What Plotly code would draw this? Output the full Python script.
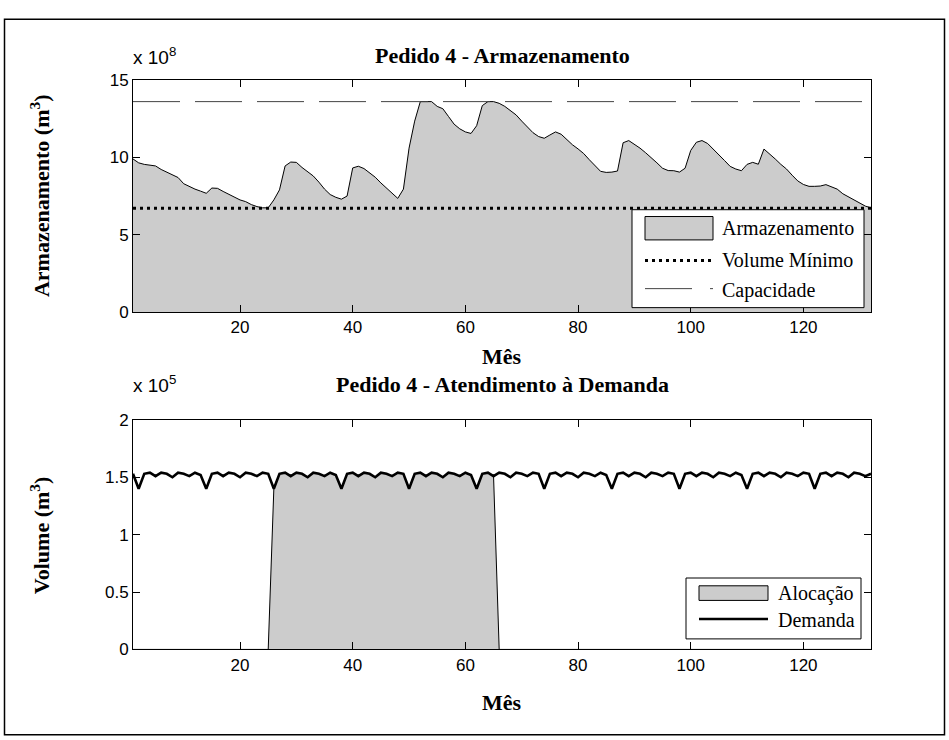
import plotly.graph_objects as go

# ---------------- data ----------------
months = list(range(1, 133))

# reservoir storage (x 1e8 m3), one value per month
storage = [
    9.90, 9.65, 9.55, 9.52, 9.45, 9.22, 9.05, 8.90, 8.70, 8.30, 8.12, 7.95,
    7.82, 7.68, 8.02, 8.00, 7.80, 7.60, 7.42, 7.25, 7.14, 6.95, 6.82, 6.74,
    6.74, 7.25, 7.90, 9.45, 9.70, 9.68, 9.35, 9.05, 8.80, 8.40, 7.95, 7.60,
    7.42, 7.30, 7.50, 9.32, 9.43, 9.28, 9.00, 8.72, 8.35, 8.00, 7.65, 7.35,
    7.95, 10.60, 12.35, 13.61, 13.61, 13.61, 13.30, 13.15, 12.65, 12.15, 11.85, 11.65,
    11.55, 12.05, 13.35, 13.61, 13.61, 13.50, 13.30, 13.05, 12.75, 12.35, 11.97, 11.60,
    11.35, 11.24, 11.45, 11.65, 11.50, 11.15, 10.82, 10.55, 10.25, 9.85, 9.45, 9.10,
    9.03, 9.05, 9.12, 10.95, 11.09, 10.85, 10.60, 10.30, 10.00, 9.65, 9.30, 9.15,
    9.14, 9.05, 9.30, 10.45, 10.98, 11.09, 10.90, 10.55, 10.20, 9.80, 9.42, 9.25,
    9.14, 9.55, 9.68, 9.56, 10.54, 10.25, 9.90, 9.55, 9.25, 8.85, 8.48, 8.25,
    8.13, 8.13, 8.15, 8.24, 8.08, 7.95, 7.65, 7.45, 7.22, 7.00, 6.85, 6.74,
]
storage_scale = 1e8
capacity = 13.61      # x 1e8 m3
min_volume = 6.72     # x 1e8 m3

# monthly demand (x 1e5 m3)
demand = [
    1.53, 1.40, 1.53, 1.54, 1.51, 1.54, 1.53, 1.50, 1.54, 1.53, 1.51, 1.54,
    1.52, 1.40, 1.53, 1.54, 1.51, 1.54, 1.53, 1.50, 1.54, 1.53, 1.51, 1.54,
    1.53, 1.40, 1.53, 1.54, 1.51, 1.54, 1.53, 1.50, 1.54, 1.53, 1.51, 1.54,
    1.52, 1.40, 1.53, 1.54, 1.51, 1.54, 1.53, 1.50, 1.54, 1.53, 1.51, 1.54,
    1.53, 1.40, 1.53, 1.54, 1.51, 1.54, 1.53, 1.50, 1.54, 1.53, 1.51, 1.54,
    1.52, 1.40, 1.53, 1.54, 1.51, 1.54, 1.53, 1.50, 1.54, 1.53, 1.51, 1.54,
    1.53, 1.40, 1.53, 1.54, 1.51, 1.54, 1.53, 1.50, 1.54, 1.53, 1.51, 1.54,
    1.52, 1.40, 1.53, 1.54, 1.51, 1.54, 1.53, 1.50, 1.54, 1.53, 1.51, 1.54,
    1.53, 1.40, 1.53, 1.54, 1.51, 1.54, 1.53, 1.50, 1.54, 1.53, 1.51, 1.54,
    1.52, 1.40, 1.53, 1.54, 1.51, 1.54, 1.53, 1.50, 1.54, 1.53, 1.51, 1.54,
    1.53, 1.40, 1.53, 1.54, 1.51, 1.54, 1.53, 1.50, 1.54, 1.53, 1.51, 1.53,
]
demand_scale = 1e5
# months in which the order is supplied
alloc_first, alloc_last = 26, 65
allocation = [d if alloc_first <= m <= alloc_last else 0.0 for m, d in zip(months, demand)]

top_ticks = [0, 5, 10, 15]
bottom_ticks = [0, 0.5, 1, 1.5, 2]
x_ticks = [20, 40, 60, 80, 100, 120]

# ---------------- layout helpers ----------------
W, H = 949, 740
def px(x):
    return x / W
def py(y):
    return 1 - y / H

GREY = "#cccccc"
SERIF = "Liberation Serif, Times New Roman, serif"
SANS = "Liberation Sans, Arial, sans-serif"

fig = go.Figure()

# ---- top panel: storage ----
fig.add_trace(go.Scatter(
    x=months, y=[v * storage_scale for v in storage], mode="lines",
    line=dict(color="black", width=1), fill="tozeroy", fillcolor=GREY,
    xaxis="x", yaxis="y", showlegend=False, hoverinfo="skip"))
fig.add_trace(go.Scatter(
    x=[months[0], months[-1]], y=[min_volume * storage_scale] * 2, mode="lines",
    line=dict(color="black", width=3, dash="3px,4px"),
    xaxis="x", yaxis="y", showlegend=False, hoverinfo="skip"))
fig.add_trace(go.Scatter(
    x=[months[0], months[-1]], y=[capacity * storage_scale] * 2, mode="lines",
    line=dict(color="#444444", width=1, dash="47px,15px"),
    xaxis="x", yaxis="y", showlegend=False, hoverinfo="skip"))

# ---- bottom panel: demand service ----
fig.add_trace(go.Scatter(
    x=months, y=[v * demand_scale for v in allocation], mode="lines",
    line=dict(color="black", width=1), fill="tozeroy", fillcolor=GREY,
    xaxis="x2", yaxis="y2", showlegend=False, hoverinfo="skip"))
fig.add_trace(go.Scatter(
    x=months, y=[v * demand_scale for v in demand], mode="lines",
    line=dict(color="black", width=2.6),
    xaxis="x2", yaxis="y2", showlegend=False, hoverinfo="skip"))

axis_common = dict(
    showline=True, linecolor="black", linewidth=1, mirror="ticks",
    ticks="inside", ticklen=7, tickwidth=1, tickcolor="black",
    showgrid=False, zeroline=False,
    tickfont=dict(family=SANS, size=17, color="black"),
)
x_dom = [px(133), px(871)]
fig.update_layout(
    width=W, height=H, margin=dict(l=0, r=0, t=0, b=0),
    paper_bgcolor="white", plot_bgcolor="white", showlegend=False,
    xaxis=dict(domain=x_dom, range=[1, 132], tickvals=x_ticks, anchor="y", **axis_common),
    yaxis=dict(domain=[py(311), py(73)], range=[0, 15 * storage_scale],
               tickvals=[t * storage_scale for t in top_ticks],
               ticktext=[str(t) for t in top_ticks], anchor="x", **axis_common),
    xaxis2=dict(domain=x_dom, range=[1, 132], tickvals=x_ticks, anchor="y2", **axis_common),
    yaxis2=dict(domain=[py(657.3), py(421.7)], range=[0, 2 * demand_scale],
                tickvals=[t * demand_scale for t in bottom_ticks],
                ticktext=[f"{t:g}" for t in bottom_ticks], anchor="x2", **axis_common),
)

ann = []
def text(x, y, s, size, family=SERIF, xanchor="center", bold=False, angle=0):
    ann.append(dict(
        x=px(x), y=py(y), xref="paper", yref="paper", text=f"<b>{s}</b>" if bold else s,
        showarrow=False, xanchor=xanchor, yanchor="middle", textangle=angle,
        font=dict(family=family, size=size, color="black")))

# titles and axis labels
text(502, 48, "Pedido 4 - Armazenamento", 22, bold=True)
text(502, 357, "Mês", 22, bold=True)
text(40, 192, "Armazenamento (m<sup>3</sup>)", 22, bold=True, angle=-90)
text(131, 48, "x 10<sup>8</sup>", 19, family=SANS, xanchor="left")

text(502, 385, "Pedido 4 - Atendimento à Demanda", 22, bold=True)
text(502, 712, "Mês", 22, bold=True)
text(40, 540, "Volume (m<sup>3</sup>)", 22, bold=True, angle=-90)
text(131, 385, "x 10<sup>5</sup>", 19, family=SANS, xanchor="left")

shapes = []
def rect(x0, y0, x1, y1, fill="white", line="black", width=1):
    shapes.append(dict(type="rect", xref="paper", yref="paper",
                       x0=px(x0), y0=py(y1), x1=px(x1), y1=py(y0),
                       fillcolor=fill, line=dict(color=line, width=width), layer="above"))
def hline(x0, x1, y, color="black", width=1, dash="solid"):
    shapes.append(dict(type="line", xref="paper", yref="paper",
                       x0=px(x0), x1=px(x1), y0=py(y), y1=py(y),
                       line=dict(color=color, width=width, dash=dash), layer="above"))

# legend of the storage panel
rect(632, 206, 864, 306.5)
rect(645, 213, 713, 237, fill=GREY)
text(720, 225, "Armazenamento", 20, xanchor="left")
hline(645, 713, 258, width=3, dash="3px,4px")
text(720, 258, "Volume Mínimo", 20, xanchor="left")
hline(645, 692, 287, color="#444444")
hline(710, 713, 287, color="#444444")
text(720, 289, "Capacidade", 20, xanchor="left")

# legend of the demand panel
rect(686, 584, 861, 646.5)
rect(699, 592, 768, 607, fill=GREY)
text(776, 600, "Alocação", 20, xanchor="left")
hline(699, 768, 626, width=2.6)
text(776, 627, "Demanda", 20, xanchor="left")

# outer frame
shapes.append(dict(type="rect", xref="paper", yref="paper",
                   x0=px(4.5), x1=px(944.5), y0=py(745), y1=py(10.5),
                   line=dict(color="black", width=1.5), fillcolor="rgba(0,0,0,0)"))

fig.update_layout(annotations=ann, shapes=shapes)
fig.write_html("out.html")
